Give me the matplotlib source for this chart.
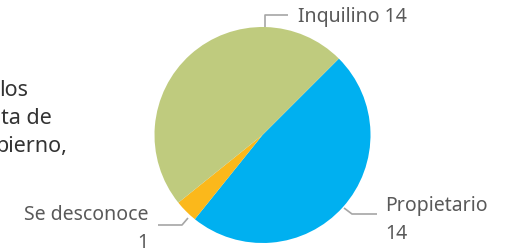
import matplotlib
matplotlib.use("Agg")
import matplotlib.pyplot as plt

# Pie data (clockwise from the top-right)
categories = ["Propietario", "Se desconoce", "Inquilino"]
values = [14, 1, 14]
colors = ["#00B0F0", "#FBB81B", "#BFCB7E"]

# Cropped body text on the left of the slide
side_text = ["los", "ta de", "bierno,"]

W, H = 514, 251
plt.rcParams["font.family"] = ["Noto Sans", "DejaVu Sans"]

fig = plt.figure(figsize=(W / 100, H / 100), dpi=100)
ax = fig.add_axes([0, 0, 1, 1])


def py(y):
    # pixel row (from top) to data y
    return H - y


ax.pie(values, colors=colors, startangle=45, counterclock=False,
       center=(262.5, py(136)), radius=108, frame=True,
       wedgeprops=dict(linewidth=0))
ax.set_xlim(0, W)
ax.set_ylim(0, H)
ax.axis("off")

# label layout: (text, anchor x, anchor y, ha, leader polyline)
lbl_color = "#595959"
line_color = "#A6A6A6"
layouts = {
    "Inquilino": (f"Inquilino {values[2]}", 298, 17, "left",
                  [(265, 28), (265, 16), (288, 16)]),
    "Propietario": (f"Propietario\n{values[0]}", 385, 220, "left",
                    [(344, 209), (352, 215), (377, 215)]),
    "Se desconoce": (f"Se desconoce\n{values[1]}", 148, 229, "right",
                     [(188, 219), (182, 226), (158, 226)]),
}
for name in categories:
    txt, x, y, ha, pts = layouts[name]
    ax.plot([p[0] for p in pts], [py(p[1]) for p in pts],
            color=line_color, lw=1.2, solid_capstyle="butt")
    ax.text(x, py(y), txt, ha=ha, va="center", fontsize=14,
            color=lbl_color, linespacing=1.55)

# cropped slide text
right_edges = [28, 52, 67]
for i, (s, xr) in enumerate(zip(side_text, right_edges)):
    ax.text(xr, py(96 + 28 * i), s, ha="right", va="baseline",
            fontsize=15.5, color="#333333")

fig.savefig("out.png", dpi=100)
